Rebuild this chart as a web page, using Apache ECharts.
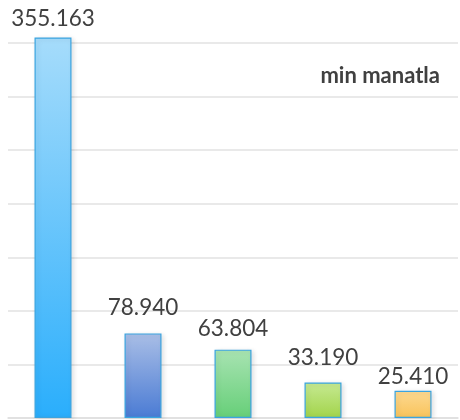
<!DOCTYPE html>
<html>
<head>
<meta charset="utf-8">
<script src="https://cdn.jsdelivr.net/npm/echarts@6/dist/echarts.min.js"></script>
<style>html,body{margin:0;padding:0;background:#fff}#c{width:460px;height:420px}</style>
</head>
<body>
<div id="c"></div>
<script>
var categories = ['A', 'B', 'C', 'D', 'E'];
var values = [355.163, 78.940, 63.804, 33.190, 25.410];
var labels = ['355.163', '78.940', '63.804', '33.190', '25.410'];
var unitText = 'min manatla';

var topColors = ['#a6dcfb', '#a9bee6', '#a8e3b2', '#c6e992', '#fcd992'];
var bottomColors = ['#2aaefc', '#4a7bd4', '#66cf78', '#a2d44a', '#f9c35a'];
var labelGap = [7, 14, 9, 13, 3];

var chart = echarts.init(document.getElementById('c'));
chart.setOption({
  animation: false,
  title: {
    text: unitText, right: 15, top: 60,
    textStyle: { fontFamily: 'Lato', fontWeight: 'bold', fontSize: 22, color: '#404040' }
  },
  grid: { left: 8, right: 2, top: 43, bottom: 2, containLabel: false },
  xAxis: {
    type: 'category', data: categories,
    axisLine: { show: true, lineStyle: { color: '#dedede', width: 1.5 } },
    axisTick: { show: false }, axisLabel: { show: false }
  },
  yAxis: {
    type: 'value', min: 0, max: 350, interval: 50,
    axisLine: { show: false }, axisTick: { show: false }, axisLabel: { show: false },
    splitLine: { lineStyle: { color: '#e2e2e2', width: 1.5 } }
  },
  series: [{
    type: 'bar', barWidth: 37, clip: false,
    data: values.map(function (v, i) {
      return {
        value: v,
        itemStyle: {
          color: new echarts.graphic.LinearGradient(0, 0, 0, 1, [
            { offset: 0, color: topColors[i] }, { offset: 1, color: bottomColors[i] }
          ]),
          borderColor: '#3aa4e0', borderWidth: 1.2,
          shadowBlur: 5, shadowColor: 'rgba(0,0,0,0.12)', shadowOffsetX: 2, shadowOffsetY: 1
        },
        label: {
          show: true, position: 'top', distance: labelGap[i],
          formatter: labels[i],
          fontFamily: 'Lato', fontSize: 22.5, color: '#404040'
        }
      };
    })
  }]
});
</script>
</body>
</html>
